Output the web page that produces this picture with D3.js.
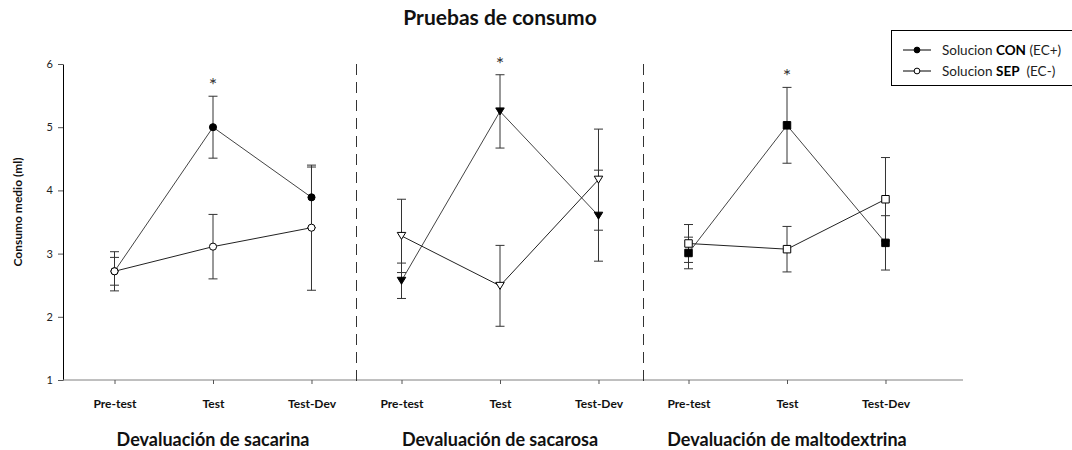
<!DOCTYPE html>
<html>
<head>
<meta charset="utf-8">
<script src="https://cdn.jsdelivr.net/npm/d3@7"></script>
<style>
  html, body { margin: 0; padding: 0; background: #fff; }
  svg { display: block; }
  text { font-family: Lato, "Open Sans", sans-serif; }
</style>
</head>
<body>
<svg id="chart" width="1072" height="450"></svg>
<script>
// Mean consumption (ml) per devaluation block and test phase
const panels = ["Devaluación de sacarina", "Devaluación de sacarosa", "Devaluación de maltodextrina"];
const phases = ["Pre-test", "Test", "Test-Dev"];
const conMean = [[2.72, 5.00, 3.89], [2.57, 5.25, 3.60], [3.01, 5.03, 3.17]];
const conSE   = [[0.22, 0.49, 0.48], [0.28, 0.58, 0.72], [0.25, 0.60, 0.43]];
const sepMean = [[2.72, 3.11, 3.41], [3.28, 2.49, 4.17], [3.16, 3.07, 3.86]];
const sepSE   = [[0.31, 0.51, 0.99], [0.58, 0.64, 0.80], [0.30, 0.36, 0.66]];
const significant = ["Test", "Test", "Test"];
const yTicks = [1, 2, 3, 4, 5, 6];
const seriesNames = [
  { pre: "Solucion ", key: "CON", post: " (EC+)" },
  { pre: "Solucion ", key: "SEP", post: "  (EC-)" }
];

const svg = d3.select("#chart");

const y = d3.scaleLinear().domain([1, 6]).range([380, 64]);
const panelX = d3.scaleBand().domain(panels).range([69.5, 930.5]).padding(0);
const phaseX = d3.scalePoint().domain(phases).range([0, panelX.bandwidth()]).padding(0.457);
const xOf = (p, ph) => panelX(p) + phaseX(ph);

// Downward-pointing triangle symbol
const triangleDown = {
  draw(ctx, size) {
    const h = Math.sqrt(size) * 0.9;
    const w = Math.sqrt(size) * 0.55;
    ctx.moveTo(-w, -h / 2);
    ctx.lineTo(w, -h / 2);
    ctx.lineTo(0, h / 2);
    ctx.closePath();
  }
};
const symbolTypes = [d3.symbolCircle, triangleDown, d3.symbolSquare];
const symbolSizes = [40, 60, 56];

// Title
svg.append("text")
  .attr("x", 500).attr("y", 25)
  .attr("text-anchor", "middle")
  .attr("font-size", 21).attr("font-weight", 700)
  .attr("fill", "#111")
  .text("Pruebas de consumo");

// Y axis
const yAxis = svg.append("g")
  .attr("transform", "translate(63,0)")
  .call(d3.axisLeft(y).tickValues(yTicks).tickSize(5).tickSizeOuter(0).tickPadding(5).tickFormat(d3.format("d")));
yAxis.select(".domain").attr("stroke", "#000");
yAxis.selectAll(".tick line").attr("stroke", "#555");
yAxis.selectAll(".tick text")
  .attr("font-family", "'Liberation Sans', Arial, sans-serif")
  .attr("font-size", 11).attr("fill", "#222");

svg.append("text")
  .attr("transform", "translate(22,212) rotate(-90)")
  .attr("text-anchor", "middle")
  .attr("font-size", 12).attr("font-weight", 700).attr("fill", "#111")
  .text("Consumo medio (ml)");

// X baseline across all panels
svg.append("line")
  .attr("x1", 63).attr("x2", 963)
  .attr("y1", y(1)).attr("y2", y(1))
  .attr("stroke", "#808080");

// Dashed separators between panels
svg.selectAll(".sep").data(panels.slice(1)).enter().append("line")
  .attr("x1", d => panelX(d)).attr("x2", d => panelX(d))
  .attr("y1", y(6)).attr("y2", y(1) + 5)
  .attr("stroke", "#333").attr("stroke-dasharray", "11,7");

panels.forEach((p, pi) => {
  // Phase ticks and labels
  const ax = svg.append("g")
    .attr("transform", `translate(${panelX(p)},${y(1)})`)
    .call(d3.axisBottom(phaseX).tickSize(4).tickPadding(15));
  ax.select(".domain").remove();
  ax.selectAll(".tick line").attr("stroke", "#555");
  ax.selectAll(".tick text")
    .attr("font-family", "Lato, sans-serif")
    .attr("font-size", 12).attr("font-weight", 700).attr("fill", "#111");

  // Block label
  svg.append("text")
    .attr("x", panelX(p) + panelX.bandwidth() / 2).attr("y", 446)
    .attr("text-anchor", "middle")
    .attr("font-size", 18).attr("font-weight", 700).attr("fill", "#111")
    .text(p);

  const series = [
    { mean: conMean[pi], se: conSE[pi], filled: true, line: "#444" },
    { mean: sepMean[pi], se: sepSE[pi], filled: false, line: "#222" }
  ];

  const line = d3.line().x((d, i) => xOf(p, phases[i])).y(d => y(d));
  series.forEach(s => {
    svg.append("path").datum(s.mean)
      .attr("d", line).attr("fill", "none")
      .attr("stroke", s.line).attr("stroke-width", 1);
  });

  series.forEach(s => {
    const g = svg.append("g");
    s.mean.forEach((m, i) => {
      const cx = xOf(p, phases[i]);
      const lo = y(m - s.se[i]), hi = y(m + s.se[i]);
      g.append("line").attr("x1", cx).attr("x2", cx).attr("y1", lo).attr("y2", hi)
        .attr("stroke", "#333");
      [lo, hi].forEach(v => g.append("line")
        .attr("x1", cx - 4.5).attr("x2", cx + 4.5).attr("y1", v).attr("y2", v)
        .attr("stroke", "#333"));
    });
  });

  series.forEach(s => {
    svg.append("g").selectAll("path").data(s.mean).enter().append("path")
      .attr("transform", (d, i) => `translate(${xOf(p, phases[i])},${y(d)})`)
      .attr("d", d3.symbol().type(symbolTypes[pi]).size(symbolSizes[pi]))
      .attr("fill", s.filled ? "#000" : "#fff")
      .attr("stroke", "#000").attr("stroke-width", 1);
  });

  // Significance mark above the tested phase
  const si = phases.indexOf(significant[pi]);
  svg.append("text")
    .attr("x", xOf(p, significant[pi]))
    .attr("y", y(conMean[pi][si] + conSE[pi][si]) - 4)
    .attr("text-anchor", "middle")
    .attr("font-family", "'DejaVu Sans', sans-serif")
    .attr("font-size", 20).attr("fill", "#333")
    .text("*");
});

// Legend
const lg = svg.append("g");
lg.append("rect")
  .attr("x", 891.5).attr("y", 30.5).attr("width", 200).attr("height", 55)
  .attr("fill", "#fff").attr("stroke", "#000");
seriesNames.forEach((s, i) => {
  const ly = 50 + i * 21;
  lg.append("line").attr("x1", 903).attr("x2", 931).attr("y1", ly).attr("y2", ly)
    .attr("stroke", "#000");
  lg.append("path")
    .attr("transform", `translate(917,${ly})`)
    .attr("d", d3.symbol().type(d3.symbolCircle).size(26))
    .attr("fill", i === 0 ? "#000" : "#fff").attr("stroke", "#000");
  const t = lg.append("text").attr("x", 942).attr("y", ly + 5)
    .attr("font-size", 13.5).attr("fill", "#222");
  t.append("tspan").attr("xml:space", "preserve").text(s.pre);
  t.append("tspan").attr("font-weight", 700).attr("fill", "#000").text(s.key);
  t.append("tspan").attr("xml:space", "preserve").text(s.post);
});
</script>
</body>
</html>
